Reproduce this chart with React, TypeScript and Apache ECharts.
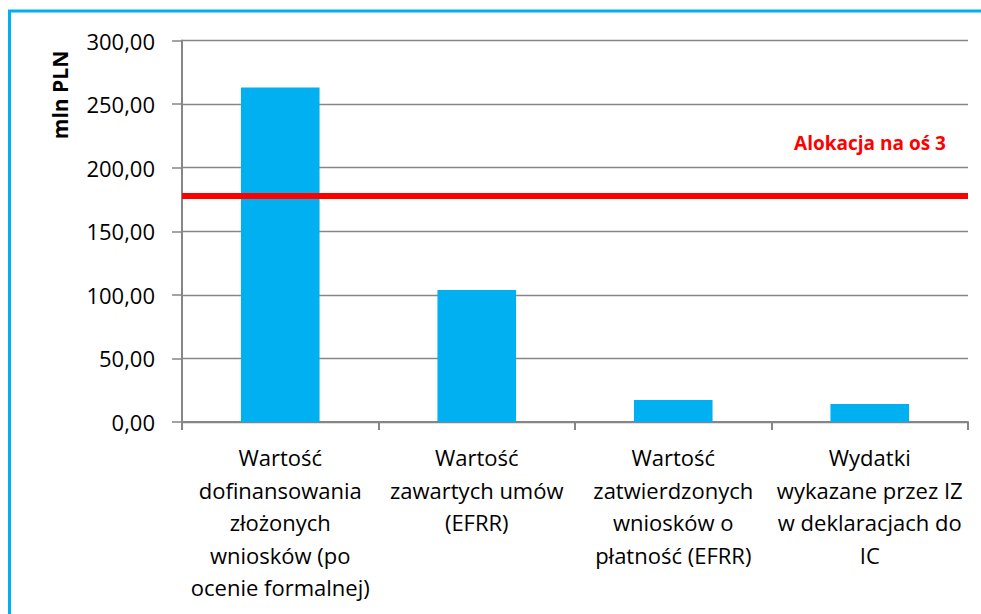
import React, { useEffect, useRef } from "react";
import * as echarts from "echarts";

const categories = [
  "Wartość\ndofinansowania\nzłożonych\nwniosków (po\nocenie formalnej)",
  "Wartość\nzawartych umów\n(EFRR)",
  "Wartość\nzatwierdzonych\nwniosków o\npłatność (EFRR)",
  "Wydatki\nwykazane przez IZ\nw deklaracjach do\nIC",
];
const values = [263.0, 103.8, 17.3, 14.1];
const allocation = 178.3;
const allocationLabel = "Alokacja na oś 3";
const yAxisTitle = "mln PLN";
const yMin = 0;
const yMax = 300;
const yInterval = 50;

export default function App() {
  const ref = useRef<HTMLDivElement>(null);
  useEffect(() => {
    document.body.style.margin = "0";
    const chart = echarts.init(ref.current!, null, { renderer: "svg" });
    const font = "'Open Sans', sans-serif";
    chart.setOption({
      animation: false,
      backgroundColor: "#ffffff",
      grid: { left: 182, top: 40.5, right: 13, bottom: 192, containLabel: false },
      xAxis: {
        type: "category",
        data: categories,
        axisLine: { show: true, lineStyle: { color: "#868686", width: 2 } },
        axisTick: { show: true, interval: 0, length: 8, lineStyle: { color: "#868686", width: 2 } },
        axisLabel: {
          interval: 0,
          margin: 19,
          color: "#000000",
          fontFamily: font,
          fontSize: 22,
          lineHeight: 32.5,
          align: "center",
        },
      },
      yAxis: {
        type: "value",
        min: yMin,
        max: yMax,
        interval: yInterval,
        axisLine: { show: true, lineStyle: { color: "#868686", width: 2 } },
        axisTick: { show: true, length: 10, lineStyle: { color: "#868686", width: 1.5 } },
        splitLine: { show: true, lineStyle: { color: "#868686", width: 1.3 } },
        axisLabel: {
          margin: 27,
          color: "#000000",
          fontFamily: font,
          fontSize: 22,
          formatter: (v: number) => v.toFixed(2).replace(".", ","),
        },
      },
      series: [
        {
          type: "bar",
          data: values,
          barWidth: "40%",
          itemStyle: { color: "#00B0F0" },
          markLine: {
            silent: true,
            symbol: ["none", "none"],
            label: { show: false },
            lineStyle: { color: "#FF0000", width: 6, type: "solid" },
            data: [{ yAxis: allocation }],
          },
        },
      ],
      graphic: [
        {
          type: "rect",
          shape: { x: 9.5, y: 11, width: 1000, height: 700 },
          style: { fill: "none", stroke: "#00B0F0", lineWidth: 3 },
          silent: true,
        },
        {
          type: "text",
          x: 870,
          y: 143,
          style: {
            text: allocationLabel,
            fill: "#FF0000",
            font: `bold 19px ${font}`,
            align: "center",
            verticalAlign: "middle",
          },
        },
        {
          type: "text",
          x: 60,
          y: 95,
          rotation: Math.PI / 2,
          style: {
            text: yAxisTitle,
            fill: "#000000",
            font: `bold 21px ${font}`,
            align: "center",
            verticalAlign: "middle",
          },
        },
      ],
    });
    return () => chart.dispose();
  }, []);
  return <div ref={ref} style={{ width: 981, height: 614 }} />;
}
